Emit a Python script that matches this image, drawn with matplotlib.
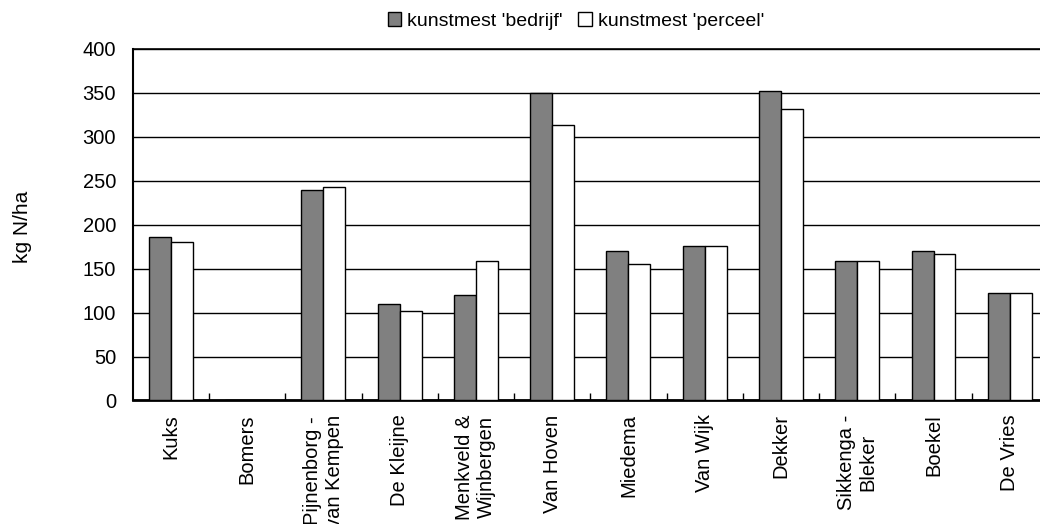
import numpy as np
import matplotlib
matplotlib.use('Agg')
import matplotlib.pyplot as plt
from matplotlib.ticker import FixedLocator, NullFormatter

plt.rcParams['font.family'] = ['Liberation Sans', 'DejaVu Sans']

# bedrijven
bedrijven = ['Kuks', 'Bomers', 'Pijnenborg -\nvan Kempen', 'De Kleijne',
             'Menkveld &\nWijnbergen', 'Van Hoven', 'Miedema', 'Van Wijk',
             'Dekker', 'Sikkenga -\nBleker', 'Boekel', 'De Vries']
# kunstmest N, kg/ha
bedrijf = [186, 0, 240, 110, 120, 350, 170, 176, 352, 159, 170, 122]
perceel = [180, 0, 243, 102, 159, 313, 155, 176, 332, 159, 167, 122]

fig = plt.figure(figsize=(10.4, 5.24), dpi=100)
ax = fig.add_axes([0.1276, 0.2357, 0.88, 0.6708])

x = np.arange(len(bedrijven))
w = 0.288
ax.bar(x - w / 2, bedrijf, w, color='#808080', edgecolor='black', linewidth=1,
       label="kunstmest 'bedrijf'", zorder=3)
ax.bar(x + w / 2, perceel, w, color='white', edgecolor='black', linewidth=1,
       label="kunstmest 'perceel'", zorder=3)

ax.set_xlim(-0.5, len(bedrijven) - 0.5)
ax.set_ylim(0, 400)
ax.set_yticks(np.arange(0, 401, 50))
ax.yaxis.grid(True, color='black', linewidth=1)
ax.set_axisbelow(True)

ax.set_xticks(x)
ax.set_xticklabels(bedrijven, rotation=90, va='top', ha='center')
ax.xaxis.set_minor_locator(FixedLocator(x[:-1] + 0.5))
ax.xaxis.set_minor_formatter(NullFormatter())
ax.tick_params(axis='x', which='major', length=0, pad=10, labelsize=14.5)
ax.tick_params(axis='x', which='minor', direction='in', length=5, width=1)
ax.tick_params(axis='y', direction='in', length=0, pad=12, labelsize=14.5)

ax.spines['right'].set_visible(False)
ax.spines['top'].set_linewidth(1.2)
ax.spines['left'].set_linewidth(1.5)
ax.spines['bottom'].set_linewidth(2)

fig.text(0.022, 1 - 227 / 524, 'kg N/ha', rotation=90, ha='center', va='center',
         fontsize=15)

fig.legend(loc='center', bbox_to_anchor=(576 / 1040, 1 - 21 / 524), ncol=2,
           frameon=False, fontsize=14, handlelength=0.7, handleheight=0.7,
           handletextpad=0.3, columnspacing=0.8, borderpad=0)

fig.savefig('out.png', dpi=100)
